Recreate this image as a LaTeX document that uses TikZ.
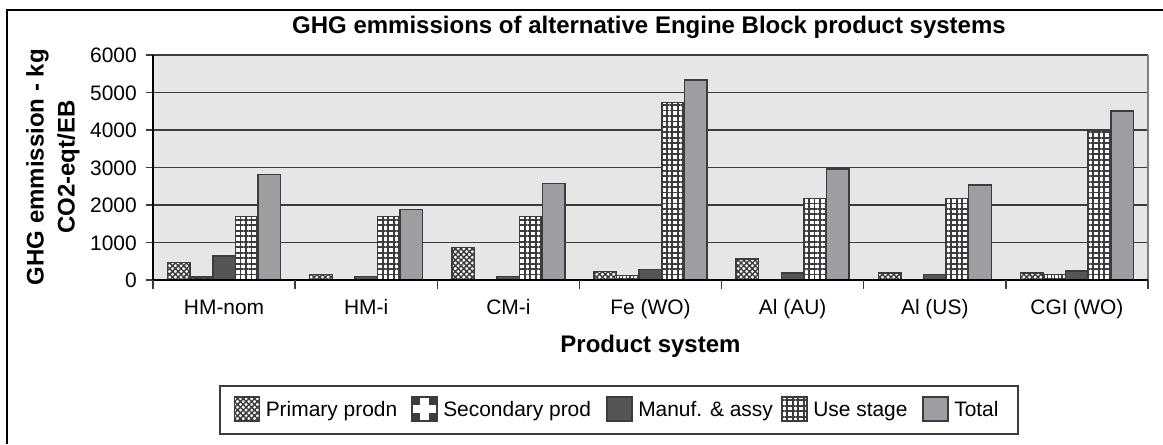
\documentclass[tikz,border=0pt]{standalone}
\usepackage{fontspec}
\setmainfont{Liberation Sans}
\usetikzlibrary{patterns.meta}

\definecolor{plotbg}{RGB}{230,230,230}
\definecolor{totalgray}{RGB}{158,158,162}
\definecolor{manufgray}{RGB}{85,85,85}
\definecolor{linegray}{RGB}{60,60,60}

% one bar: style, left x, value (kg)
\newcommand{\ghgbar}[3]{%
  \ifdim #3pt>0pt \draw[#1] (#2,280) rectangle ++(22.6,{-#3*0.0375}); \fi}

\begin{document}
\begin{tikzpicture}[x=0.75pt, y=-0.75pt,
  barbase/.style={draw=linegray, line width=1.1pt},
  primbar/.style={barbase, preaction={fill=white},
    pattern={Hatch[angle=45, distance=3pt, line width=1.1pt]}, pattern color=linegray},
  secbar/.style={barbase, preaction={fill=white},
    pattern={Hatch[angle=0, distance=2.7pt, line width=1pt]}, pattern color=linegray},
  seckey/.style={barbase, fill=white, path picture={
    \fill[linegray] (path picture bounding box.north west) rectangle ++(8,8);
    \fill[linegray] (path picture bounding box.north east) rectangle ++(-8,8);
    \fill[linegray] (path picture bounding box.south west) rectangle ++(8,-8);
    \fill[linegray] (path picture bounding box.south east) rectangle ++(-8,-8);}},
  manbar/.style={barbase, fill=manufgray},
  usebar/.style={barbase, preaction={fill=white},
    pattern={Hatch[angle=0, distance=4.1pt, line width=1.4pt]}, pattern color=linegray},
  totbar/.style={barbase, fill=totalgray},
  ticklabel/.style={font=\fontsize{15.7}{18}\selectfont, inner sep=0pt},
  axistitle/.style={font=\fontsize{18}{23.25}\selectfont\bfseries, inner sep=0pt}]

\useasboundingbox (0,0) rectangle (1163,444);

% outer frame
\draw[line width=1.5pt] (7,444) -- (7,10) -- (1163,10);

% title
\node[axistitle, anchor=base] (title) at (649,33)
  {GHG emmissions of alternative Engine Block product systems};

% plot area and grid
\fill[plotbg] (153,55) rectangle (1148,280);
\foreach \k in {1,...,6}
  \draw[linegray, line width=1.1pt] (153,{280-37.5*\k}) -- (1148,{280-37.5*\k});
\draw[gray, line width=0.8pt] (1148,55) -- (1148,280);

% y axis
\foreach \k in {0,...,6} {
  \draw[linegray, line width=1.1pt] (146,{280-37.5*\k}) -- (153,{280-37.5*\k});
  \pgfmathtruncatemacro\lab{1000*\k}
  \node[ticklabel, anchor=base east] (ylab\k) at (137,{287.5-37.5*\k}) {\lab};
}
\node[axistitle, rotate=90, align=center] (ytitle) at (53,167)
  {GHG emmission - kg\\CO2-eqt/EB};

% bars
\foreach \vp/\vs/\vm/\vu/\vt [count=\i from 0] in
  {460/85/640/1690/2810, 140/0/90/1690/1880, 860/0/90/1690/2570,
   220/115/275/4730/5330, 560/0/190/2170/2960, 190/0/140/2170/2530,
   190/140/245/4000/4510} {
  \pgfmathsetmacro\xa{153+142.14*\i+14.57}
  \ghgbar{primbar}{\xa}{\vp}
  \ghgbar{secbar}{\xa+22.6}{\vs}
  \ghgbar{manbar}{\xa+45.2}{\vm}
  \ghgbar{usebar}{\xa+67.8}{\vu}
  \ghgbar{totbar}{\xa+90.4}{\vt}
}

% x axis
\draw[black, line width=1.1pt] (153,55) -- (153,280) -- (1148,280);
\foreach \i in {0,...,7}
  \draw[linegray, line width=1.1pt] ({153+142.14*\i},280) -- ({153+142.14*\i},289);
\foreach \name [count=\i from 0] in {HM-nom, HM-i, CM-i, Fe (WO), Al (AU), Al (US), CGI (WO)}
  \node[ticklabel, anchor=base] (cat\i) at ({153+142.14*(\i+0.5)},314) {\name};
\node[axistitle, anchor=base] (xtitle) at (650.5,352.5) {Product system};

% legend
\draw[linegray, line width=1.1pt] (220,386) rectangle (1018,434);
\foreach \sty/\sx/\txt in {primbar/234.5/Primary prodn, seckey/412/Secondary prod,
    manbar/607/Manuf. \& assy, usebar/782/Use stage, totbar/923/Total} {
  \draw[\sty] (\sx,397) rectangle ++(25,24);
  \node[ticklabel, anchor=base west] at (\sx+31,416.5) {\txt};
}

\end{tikzpicture}
\end{document}
